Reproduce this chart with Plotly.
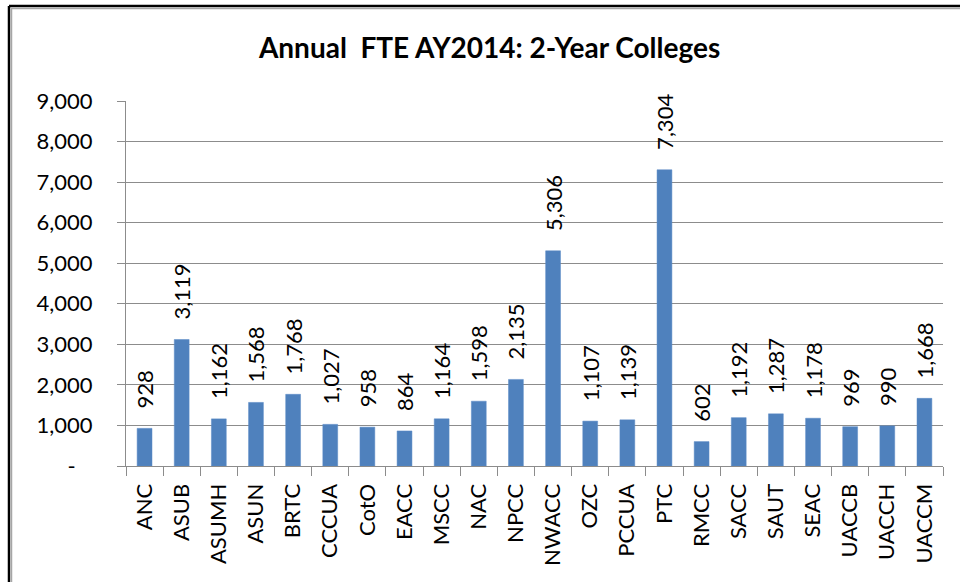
import plotly.graph_objects as go

# Annual FTE, AY2014, Arkansas 2-year colleges
colleges = [
    "ANC", "ASUB", "ASUMH", "ASUN", "BRTC", "CCCUA", "CotO", "EACC", "MSCC", "NAC", "NPCC",
    "NWACC", "OZC", "PCCUA", "PTC", "RMCC", "SACC", "SAUT", "SEAC", "UACCB", "UACCH", "UACCM",
]
fte = [
    928, 3119, 1162, 1568, 1768, 1027, 958, 864, 1164, 1598, 2135,
    5306, 1107, 1139, 7304, 602, 1192, 1287, 1178, 969, 990, 1668,
]
y_ticks = [0, 1000, 2000, 3000, 4000, 5000, 6000, 7000, 8000, 9000]
y_labels = ["-\u00a0\u00a0\u00a0", "1,000", "2,000", "3,000", "4,000", "5,000",
            "6,000", "7,000", "8,000", "9,000"]

BAR_COLOR = "#4F81BD"
GRID_COLOR = "#8C8C8C"
FONT = "Lato"

# plot-area geometry in pixels, used to place the outer frame
W, H = 960, 582
ML, MR, MT, MB = 126, 17, 101, 116
PW, PH = W - ML - MR, H - MT - MB


def px_x(x):
    return (x - ML) / PW


def px_y(y):
    return (H - MB - y) / PH


fig = go.Figure(
    go.Bar(
        x=colleges,
        y=fte,
        marker=dict(color=BAR_COLOR, line=dict(color="#5B8BC6", width=0.5)),
        text=["\u00a0\u00a0\u00a0" + f"{v:,}" for v in fte],
        textposition="outside",
        textangle=-90,
        constraintext="none",
        cliponaxis=False,
        textfont=dict(family=FONT, size=22, color="#000000"),
        hoverinfo="x+y",
    )
)

frame = [
    # black frame, with a grey shadow line just inside it
    dict(x0=px_x(9), x1=px_x(965), y0=px_y(6), y1=px_y(6), color="#000000", width=2.5),
    dict(x0=px_x(11), x1=px_x(965), y0=px_y(8.5), y1=px_y(8.5), color="#A6A6A6", width=1.5),
    dict(x0=px_x(9), x1=px_x(9), y0=px_y(6), y1=px_y(590), color="#000000", width=2.5),
    dict(x0=px_x(11.5), x1=px_x(11.5), y0=px_y(8.5), y1=px_y(590), color="#A6A6A6", width=1.5),
]
for s in frame:
    fig.add_shape(
        type="line", xref="paper", yref="paper",
        x0=s["x0"], x1=s["x1"], y0=s["y0"], y1=s["y1"],
        line=dict(color=s["color"], width=s["width"]),
    )

fig.update_layout(
    width=W,
    height=H,
    margin=dict(l=ML, r=MR, t=MT, b=MB),
    paper_bgcolor="white",
    plot_bgcolor="white",
    bargap=0.6,
    showlegend=False,
    font=dict(family=FONT, size=22, color="#000000"),
    title=dict(
        text="<b>Annual  FTE AY2014: 2-Year Colleges</b>",
        x=0.51, xanchor="center", y=0.917, yanchor="middle",
        font=dict(family=FONT, size=28, color="#000000"),
    ),
    xaxis=dict(
        tickangle=-90,
        showline=True, linecolor=GRID_COLOR, linewidth=1,
        ticks="outside", tickson="boundaries", ticklen=9, tickcolor=GRID_COLOR,
        ticklabelstandoff=8,
        showgrid=False,
        automargin=False,
        tickfont=dict(family=FONT, size=22, color="#000000"),
    ),
    yaxis=dict(
        range=[0, 9000],
        tickvals=y_ticks, ticktext=y_labels,
        showline=True, linecolor=GRID_COLOR, linewidth=1,
        ticks="outside", ticklen=8, tickcolor=GRID_COLOR,
        ticklabelstandoff=20,
        showgrid=True, gridcolor=GRID_COLOR, gridwidth=1,
        zeroline=False,
        automargin=False,
        tickfont=dict(family=FONT, size=22, color="#000000"),
    ),
)

# drop the browser's default body margin so the figure sits at the page origin
fig.write_html(
    "out.html",
    config={"displayModeBar": False},
    post_script="document.body.style.margin = '0';",
)
